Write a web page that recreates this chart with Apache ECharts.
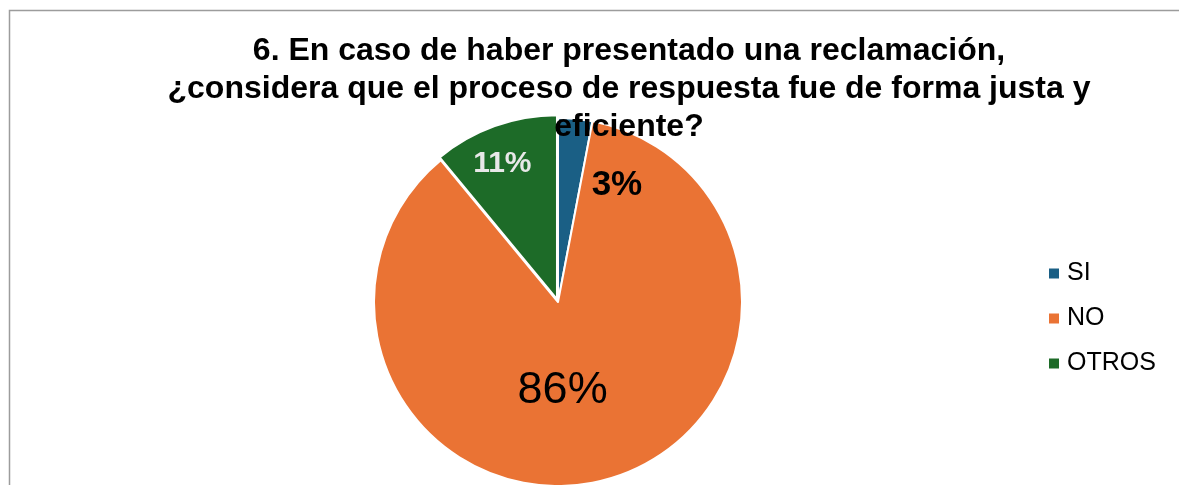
<!DOCTYPE html>
<html>
<head>
<meta charset="utf-8">
<script src="https://cdn.jsdelivr.net/npm/echarts@6/dist/echarts.min.js"></script>
<style>html,body{margin:0;padding:0;background:#fff;}#c{width:1179px;height:485px;}</style>
</head>
<body>
<div id="c"></div>
<script>
const titleLines = [
  '6. En caso de haber presentado una reclamación,',
  '¿considera que el proceso de respuesta fue de forma justa y',
  'eficiente?'
];
const categories = ['SI', 'NO', 'OTROS'];
const values = [3, 86, 11];
const colors = ['#1A5F85', '#EA7334', '#1D6B28'];

const labelStyles = [
  { color: '#000', fontSize: 35, fontWeight: 'bold', offset: [50, -22] },
  { color: '#000', fontSize: 45, fontWeight: 'normal', offset: [-19, -3] },
  { color: '#E8E8E8', fontSize: 30, fontWeight: 'bold', offset: [4, -43] }
];

function makeLabel(i) {
  return {
    show: true,
    position: 'inside',
    formatter: '{d}%',
    fontFamily: 'Liberation Sans, Arial, sans-serif',
    color: labelStyles[i].color,
    fontSize: labelStyles[i].fontSize,
    fontWeight: labelStyles[i].fontWeight,
    offset: labelStyles[i].offset
  };
}

const chart = echarts.init(document.getElementById('c'), null, { renderer: 'canvas' });
chart.setOption({
  backgroundColor: '#fff',
  animation: false,
  title: {
    text: titleLines.join('\n'),
    left: 624,
    top: 27,
    textAlign: 'center',
    textStyle: {
      fontFamily: 'Liberation Sans, Arial, sans-serif',
      fontSize: 32,
      fontWeight: 'bold',
      color: '#000',
      lineHeight: 38
    },
    z: 10
  },
  legend: {
    orient: 'vertical',
    left: 1047,
    top: 261,
    padding: 0,
    itemWidth: 12,
    itemHeight: 12,
    itemGap: 20,
    icon: 'rect',
    data: categories,
    textStyle: {
      fontFamily: 'Liberation Sans, Arial, sans-serif',
      fontSize: 25,
      lineHeight: 25,
      color: '#000',
      padding: [0, 0, 0, 2]
    }
  },
  graphic: [{
    type: 'polyline',
    shape: { points: [[9.5, 600], [9.5, 10.5], [1300, 10.5]] },
    style: { stroke: '#9C9C9C', lineWidth: 1.5, fill: null },
    silent: true
  }],
  series: [{
    type: 'pie',
    center: [558, 302],
    radius: [0, 184],
    startAngle: 90,
    clockwise: true,
    selectedMode: 'single',
    selectedOffset: 3,
    itemStyle: { borderColor: '#fff', borderWidth: 2 },
    labelLine: { show: false },
    emphasis: { disabled: true },
    data: categories.map((c, i) => ({
      name: c,
      value: values[i],
      selected: i === 2,
      itemStyle: { color: colors[i] },
      label: makeLabel(i),
      select: { itemStyle: { color: colors[i] }, label: makeLabel(i) }
    }))
  }]
});
</script>
</body>
</html>
